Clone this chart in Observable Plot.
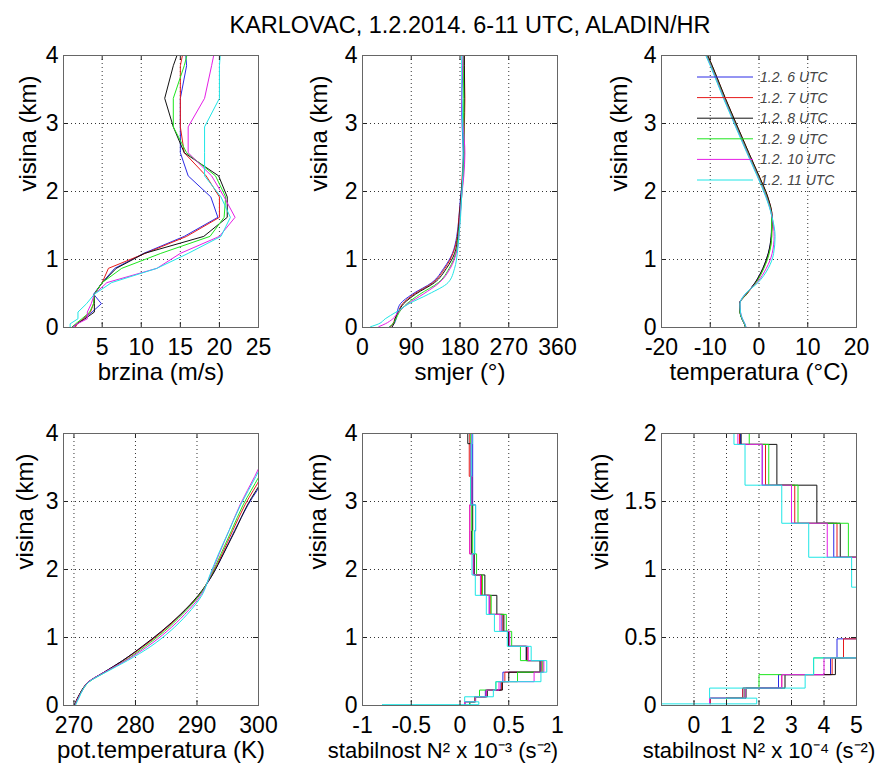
<!DOCTYPE html>
<html><head><meta charset="utf-8">
<script src="https://cdn.jsdelivr.net/npm/d3@7"></script>
<script src="https://cdn.jsdelivr.net/npm/@observablehq/plot@0.6"></script>
<style>
body{margin:0;background:#fff;}
#chart{position:relative;width:893px;height:776px;background:#fff;overflow:hidden;font-family:"Liberation Sans",Arial,sans-serif;}
.panel{position:absolute;}
#title{position:absolute;left:0;top:13px;width:940px;text-align:center;font-size:23.5px;line-height:24px;color:#000;}
#legend{position:absolute;left:0;top:0;}
</style></head><body>
<div id="chart"><div id="title"></div></div>
<script>
const naslov = "KARLOVAC, 1.2.2014. 6-11 UTC, ALADIN/HR";
const termini = ["1.2. 6 UTC", "1.2. 7 UTC", "1.2. 8 UTC", "1.2. 9 UTC", "1.2. 10 UTC", "1.2. 11 UTC"];
const boje = ["#2a2ae6", "#e61a1a", "#111111", "#1ee61e", "#e61ee6", "#1ee6e6"];

// model levels (km)
const visina = [0.012, 0.054, 0.128, 0.227, 0.35, 0.49, 0.66, 0.87, 1.09, 1.34, 1.62, 1.92, 2.23, 2.57, 2.95, 3.37, 3.85, 4.3];

// wind speed (m/s)
const brzina = [
  [1.5,1.8,2.6,3.7,4.9,3.9,5.0,6.6,10.3,15.5,19.8,18.9,16.0,15.0,15.0,15.0,15.8,15.5],
  [1.6,1.8,2.6,3.5,3.9,4.0,5.0,5.8,10.5,15.8,20.0,20.0,18.3,15.5,15.0,15.0,15.0,15.8],
  [1.2,1.8,2.8,4.0,4.0,4.0,5.0,6.8,10.4,18.0,21.0,21.0,19.9,15.5,14.1,13.0,14.1,15.5],
  [1.2,1.6,2.4,3.4,3.9,4.0,5.0,7.5,12.5,18.8,20.6,20.8,19.5,15.8,14.1,14.1,15.5,16.5],
  [1.3,1.8,3.1,3.1,3.6,4.0,5.6,12.0,15.0,20.0,22.0,20.6,19.0,16.0,16.0,18.1,19.0,19.8],
  [0.9,0.9,1.9,1.9,3.0,4.0,6.2,12.0,16.0,20.2,21.4,20.2,18.1,18.1,18.1,20.0,20.0,20.3]
];

// wind direction (deg)
const smjer = [
  [50,58,62,64,70,92,128,150,166,174,178,181,185,186,184,183,186,187],
  [52,56,60,66,74,95,130,152,167,175,178,182,184,187,188,189,188,188],
  [55,58,60,66,76,98,133,155,170,176,179,182,185,187,187,188,188,188],
  [50,56,62,68,82,106,140,160,172,177,180,183,186,188,187,187,186,187],
  [30,42,56,66,84,112,142,162,173,178,180,183,187,189,186,183,185,186],
  [15,30,42,62,86,122,158,170,175,178,181,183,185,186,185,184,183,184]
];

// temperature (deg C)
const temperatura = [
  [-2.8,-3.0,-3.5,-3.9,-4.0,-2.6,-0.8,0.8,1.9,2.5,2.6,1.7,-0.1,-2.2,-4.5,-7.0,-9.7,-12.5],
  [-2.8,-3.0,-3.5,-3.9,-4.0,-2.5,-0.7,0.9,2.0,2.6,2.7,1.8,0.0,-2.1,-4.4,-6.9,-9.6,-12.4],
  [-2.8,-3.0,-3.5,-3.9,-4.0,-2.6,-0.8,0.8,1.9,2.5,2.7,1.8,0.0,-2.1,-4.4,-6.9,-9.6,-12.4],
  [-2.8,-3.0,-3.5,-3.9,-3.9,-2.6,-0.6,1.0,2.1,2.6,2.6,1.6,-0.2,-2.3,-4.6,-7.1,-9.8,-12.6],
  [-2.7,-2.9,-3.4,-3.8,-3.9,-2.8,-0.4,1.5,2.7,3.1,2.7,1.5,-0.3,-2.4,-4.7,-7.2,-9.9,-12.7],
  [-2.7,-2.9,-3.4,-3.8,-3.9,-2.9,-0.2,1.9,3.0,3.3,2.7,1.4,-0.4,-2.5,-4.8,-7.3,-10.0,-12.8]
];

// potential temperature (K)
const potTemperatura = [
  [270.1,270.3,270.7,271.3,272.4,274.9,277.9,281.2,284.3,287.4,290.3,292.5,294.3,296.1,298.3,301.2,303.6,306.0],
  [270.2,270.3,270.7,271.3,272.4,275.0,278.0,281.3,284.4,287.4,290.3,292.4,294.1,295.8,297.8,300.5,303.2,305.8],
  [270.1,270.3,270.7,271.3,272.4,274.9,277.9,281.1,284.2,287.3,290.2,292.5,294.3,296.2,298.2,301.0,303.5,306.0],
  [270.2,270.4,270.8,271.4,272.5,275.1,278.3,281.6,284.7,287.6,290.4,292.3,293.9,295.6,297.5,300.1,302.8,305.5],
  [270.2,270.4,270.8,271.4,272.4,275.0,278.4,282.0,285.1,288.0,290.6,292.2,293.6,295.2,297.0,299.4,302.0,304.7],
  [270.3,270.5,270.9,271.4,272.5,275.2,278.7,282.5,285.6,288.4,290.8,292.1,293.5,295.2,297.1,299.6,302.2,304.9]
];

// stability N^2 (x 10^-4 s^-2), one value per layer between consecutive levels
const stabilnostTlo = [0.5, 0.5, 1.0, 1.0, 0.48, -8.0];
const stabilnost = [
  [0.5,1.5,2.6,4.2,4.4,8.3,6.8,5.0,4.3,3.0,2.1,1.43,1.5,1.6,1.3,1.3,1.3],
  [0.5,1.5,2.7,4.25,4.6,8.4,6.9,5.0,4.4,3.1,2.2,1.4,1.0,1.0,1.2,0.95,1.0],
  [1.0,1.6,2.8,4.35,5.0,8.2,6.8,5.0,4.5,3.78,2.55,1.45,1.2,1.3,1.2,1.1,0.8],
  [1.0,1.55,2.0,3.68,5.9,8.5,6.2,5.3,4.75,3.2,2.3,1.7,1.3,1.2,1.1,1.1,1.1],
  [0.48,1.57,2.7,4.0,7.6,8.6,7.0,5.1,4.1,3.0,2.1,1.35,1.0,1.0,1.2,1.1,1.2],
  [1.93,0.48,3.42,3.68,8.3,8.9,7.3,4.85,3.53,2.7,1.57,1.23,1.5,1.6,1.1,1.15,1.25]
];

document.getElementById("title").textContent = naslov;

function profileRows(values) {
  const out = [];
  values.forEach((ser, s) => ser.forEach((v, i) => out.push({serija: termini[s], h: visina[i], v})));
  return out;
}
function stairRows(scale) {
  const out = [];
  stabilnost.forEach((ser, s) => {
    out.push({serija: termini[s], h: visina[0], v: stabilnostTlo[s] * scale});
    ser.forEach((v, i) => out.push({serija: termini[s], h: visina[i], v: v * scale}));
    out.push({serija: termini[s], h: visina[ser.length], v: ser[ser.length - 1] * scale});
  });
  return out;
}

const chart = document.getElementById("chart");
const innerW = 195, innerH = 272;

function panel({left, top, rows, xDomain, xTicks, yDomain, yTicks, xLabel, xLabelDx = 0, xLabelSize = 24, yLabelDx, curve}) {
  const inner = (t, d) => t.filter(v => v > d[0] && v < d[1]);
  const fmt = d => String(d);
  const p = Plot.plot({
    width: 63 + innerW + 35, height: 15 + innerH + 65,
    marginLeft: 63, marginRight: 35, marginTop: 15, marginBottom: 65,
    style: {fontFamily: "'Liberation Sans', Arial, sans-serif", fontSize: "23px", background: "transparent", overflow: "visible", color: "#000"},
    x: {domain: xDomain},
    y: {domain: yDomain},
    color: {domain: termini, range: boje},
    marks: [
      Plot.gridX(inner(xTicks, xDomain), {stroke: "#000", strokeOpacity: 0.8, strokeDasharray: "1,3"}),
      Plot.gridY(inner(yTicks, yDomain), {stroke: "#000", strokeOpacity: 0.8, strokeDasharray: "1,3"}),
      Plot.line(rows, {x: "v", y: "h", z: "serija", stroke: "serija", curve, clip: true, strokeWidth: 1}),
      Plot.tickX(xTicks, {x: d => d, insetTop: innerH - 5, stroke: "#222"}),
      Plot.tickX(xTicks, {x: d => d, insetBottom: innerH - 5, stroke: "#222"}),
      Plot.tickY(yTicks, {y: d => d, insetRight: innerW - 5, stroke: "#222"}),
      Plot.tickY(yTicks, {y: d => d, insetLeft: innerW - 5, stroke: "#222"}),
      Plot.frame({stroke: "#666"}),
      Plot.axisX(xTicks, {tickSize: 0, tickPadding: 11, label: null, tickFormat: fmt}),
      Plot.axisY(yTicks, {tickSize: 0, tickPadding: 5, label: null, tickFormat: fmt}),
      Plot.text([xLabel], {frameAnchor: "bottom", dy: 52, dx: xLabelDx, text: d => d, fontSize: xLabelSize}),
      Plot.text(["visina (km)"], {frameAnchor: "left", rotate: -90, dx: yLabelDx, text: d => d, fontSize: 24})
    ]
  });
  const wrap = document.createElement("div");
  wrap.className = "panel";
  wrap.style.left = (left - 63) + "px";
  wrap.style.top = (top - 15) + "px";
  wrap.appendChild(p);
  chart.appendChild(wrap);
}

const hTicks = [0, 1, 2, 3, 4];
panel({left: 63, top: 55, rows: profileRows(brzina), xDomain: [0.05, 25], xTicks: [5, 10, 15, 20, 25],
  yDomain: [0, 4], yTicks: hTicks, xLabel: "brzina (m/s)", yLabelDx: -35, curve: "linear"});
panel({left: 362, top: 55, rows: profileRows(smjer), xDomain: [0, 360], xTicks: [0, 90, 180, 270, 360],
  yDomain: [0, 4], yTicks: hTicks, xLabel: "smjer (°)", yLabelDx: -43, curve: "monotone-y"});
panel({left: 661, top: 55, rows: profileRows(temperatura), xDomain: [-20, 20], xTicks: [-20, -10, 0, 10, 20],
  yDomain: [0, 4], yTicks: hTicks, xLabel: "temperatura (°C)", yLabelDx: -42, curve: "monotone-y"});
panel({left: 63, top: 433, rows: profileRows(potTemperatura), xDomain: [268.3, 300], xTicks: [270, 280, 290, 300],
  yDomain: [0, 4], yTicks: hTicks, xLabel: "pot.temperatura (K)", yLabelDx: -38, curve: "monotone-y"});
panel({left: 362, top: 433, rows: stairRows(0.1), xDomain: [-1, 1], xTicks: [-1, -0.5, 0, 0.5, 1],
  yDomain: [0, 4], yTicks: hTicks, xLabel: "stabilnost N² x 10⁻³ (s⁻²)", xLabelDx: -17, xLabelSize: 22, yLabelDx: -44, curve: "step-before"});
panel({left: 661, top: 433, rows: stairRows(1), xDomain: [-1, 5], xTicks: [0, 1, 2, 3, 4, 5],
  yDomain: [0, 2], yTicks: [0, 0.5, 1, 1.5, 2], xLabel: "stabilnost N² x 10⁻⁴ (s⁻²)", xLabelSize: 22, yLabelDx: -61, curve: "step-before"});

// legend (inside the temperature panel)
const ns = "http://www.w3.org/2000/svg";
const leg = document.createElementNS(ns, "svg");
leg.setAttribute("id", "legend");
leg.setAttribute("width", 893); leg.setAttribute("height", 200);
leg.style.position = "absolute"; leg.style.left = "0px"; leg.style.top = "0px";
termini.forEach((t, i) => {
  const y = 77 + i * 20.6;
  const l = document.createElementNS(ns, "line");
  l.setAttribute("x1", 697); l.setAttribute("x2", 753);
  l.setAttribute("y1", y); l.setAttribute("y2", y);
  l.setAttribute("stroke", boje[i]); l.setAttribute("stroke-width", 1);
  leg.appendChild(l);
  const tx = document.createElementNS(ns, "text");
  tx.setAttribute("x", 760); tx.setAttribute("y", y + 5);
  tx.setAttribute("font-family", "'Liberation Sans', Arial, sans-serif");
  tx.setAttribute("font-size", 14); tx.setAttribute("font-style", "italic");
  tx.setAttribute("fill", "#444");
  tx.textContent = t;
  leg.appendChild(tx);
});
chart.appendChild(leg);
</script>
</body></html>
